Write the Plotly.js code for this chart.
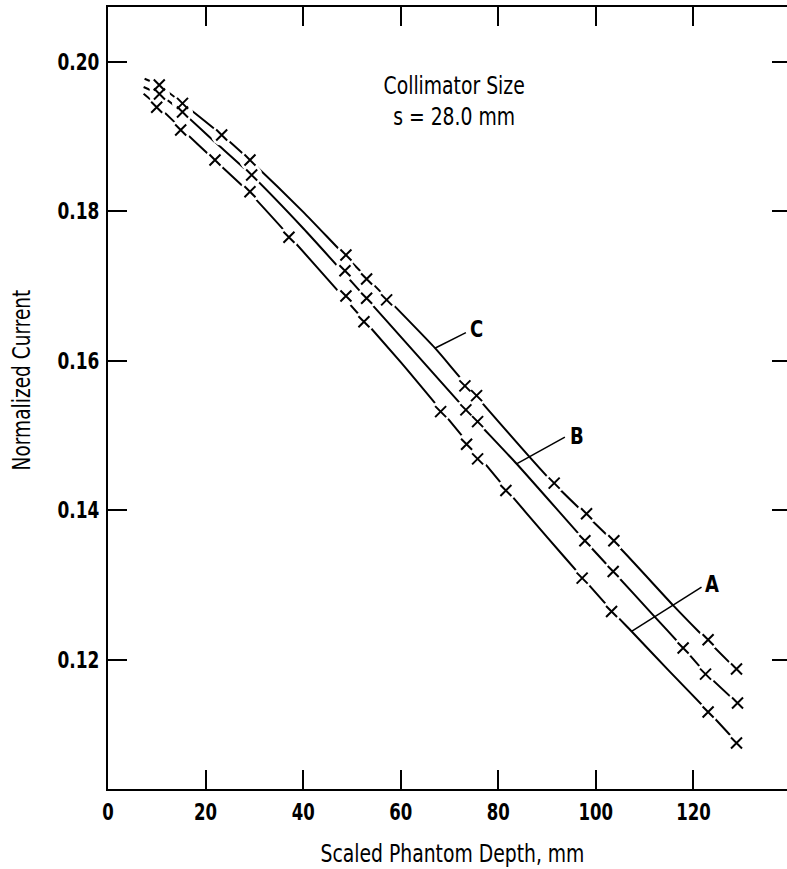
<!DOCTYPE html>
<html>
<head>
<meta charset="utf-8">
<script src="https://cdn.plot.ly/plotly-3.0.1.min.js"></script>
<style>
html,body{margin:0;padding:0;background:#fff;overflow:hidden;}
#chart{width:800px;height:869px;}
</style>
</head>
<body>
<div id="chart"></div>
<script>
// Measured points (Scaled phantom depth, mm -> normalized current)
const depthA = [9.98, 14.9, 21.93, 29.1, 37.09, 48.77, 52.46, 68.18, 73.5, 75.76, 81.56, 97.19, 103.22, 123.01, 128.83];
const currentA = [0.19388, 0.19084, 0.18683, 0.18259, 0.1765, 0.16865, 0.16521, 0.15318, 0.14882, 0.14686, 0.14262, 0.13091, 0.12644, 0.11299, 0.10885];
const depthB = [10.55, 15.27, 29.45, 48.57, 53.01, 73.36, 75.76, 97.75, 103.55, 117.89, 122.48, 129.04];
const currentB = [0.19566, 0.19325, 0.18483, 0.17203, 0.16834, 0.15341, 0.15184, 0.1359, 0.13179, 0.12155, 0.11807, 0.1142];
const depthC = [10.51, 15.27, 23.3, 29.1, 48.77, 53.01, 57.11, 73.16, 75.55, 91.46, 98.09, 103.69, 123.01, 128.83];
const currentC = [0.19686, 0.19441, 0.19017, 0.18683, 0.17413, 0.17092, 0.16812, 0.15662, 0.15532, 0.14361, 0.13951, 0.1359, 0.12266, 0.11874];

// Drawn curves
const curveAx = [7.3, 10, 14.9, 21.9, 29.1, 37.1, 48, 60, 68.2, 81.6, 90, 97.2, 103.2, 107.3, 115, 123, 128.8];
const curveAy = [0.1957, 0.1942, 0.1911, 0.1868, 0.1824, 0.1767, 0.1687, 0.1598, 0.1534, 0.1428, 0.1364, 0.1310, 0.1266, 0.1238, 0.1185, 0.1131, 0.1090];
const curveBx = [7.3, 10.5, 15.3, 22, 29.45, 40, 50, 63, 73.4, 83.75, 97.75, 103.55, 111.7, 117.9, 122.5, 129];
const curveBy = [0.1966, 0.1956, 0.1932, 0.1892, 0.1848, 0.1777, 0.1705, 0.1610, 0.1534, 0.1462, 0.1359, 0.1318, 0.1260, 0.1216, 0.1182, 0.1142];
const curveCx = [7.5, 10.5, 15.3, 23.3, 29.1, 40, 47.5, 67, 72.1, 90.6, 98.1, 105.3, 115.8, 121, 128.8];
const curveCy = [0.1977, 0.1968, 0.1944, 0.1902, 0.1868, 0.1799, 0.1748, 0.1617, 0.1578, 0.1441, 0.1393, 0.1347, 0.1273, 0.1238, 0.1187];

const xTicks = [0, 20, 40, 60, 80, 100, 120];
const yTicks = [0.12, 0.14, 0.16, 0.18, 0.20];
const curveLabels = ['A', 'B', 'C'];

const FONT = '"DejaVu Sans Condensed", "Liberation Sans Narrow", sans-serif';

function curveTrace(x, y) {
  return {x: x, y: y, type: 'scatter', mode: 'lines',
    line: {color: '#000', width: 2, shape: 'spline', smoothing: 0.6},
    hoverinfo: 'skip', showlegend: false};
}
const allX = depthA.concat(depthB, depthC);
const allY = currentA.concat(currentB, currentC);

const traces = [
  curveTrace(curveAx, curveAy),
  curveTrace(curveBx, curveBy),
  curveTrace(curveCx, curveCy),
  // white gaps in the curves around measured points
  {x: allX, y: allY, type: 'scatter', mode: 'markers',
   marker: {symbol: 'circle', size: 21, color: '#fff', line: {width: 0}},
   hoverinfo: 'skip', showlegend: false},
  {x: allX, y: allY, type: 'scatter', mode: 'markers',
   marker: {symbol: 'x-thin', size: 11, color: '#000', line: {width: 2, color: '#000'}},
   showlegend: false}
];

const layout = {
  width: 800, height: 869,
  margin: {l: 108, r: 9, t: 7, b: 80},
  paper_bgcolor: '#fff', plot_bgcolor: '#fff',
  showlegend: false,
  xaxis: {
    range: [0, 140], tickvals: xTicks, ticktext: xTicks.map(String),
    ticks: 'inside', ticklen: 19, tickwidth: 2, tickcolor: '#000',
    showline: true, linewidth: 2, linecolor: '#000', mirror: 'ticks',
    showgrid: false, zeroline: false,
    tickfont: {family: FONT, size: 23, color: '#000', weight: 'bold'},
    ticklabelstandoff: 1,
    title: {text: 'Scaled Phantom Depth, mm', font: {family: FONT, size: 24, color: '#000'}, standoff: 29}
  },
  yaxis: {
    range: [0.1027, 0.2073], tickvals: yTicks, ticktext: yTicks.map(v => v.toFixed(2)),
    ticks: 'inside', ticklen: 19, tickwidth: 2, tickcolor: '#000',
    showline: true, linewidth: 2, linecolor: '#000', mirror: 'ticks',
    showgrid: false, zeroline: false,
    tickfont: {family: FONT, size: 23, color: '#000', weight: 'bold'},
    ticklabelstandoff: 2,
    title: {text: 'Normalized Current', font: {family: FONT, size: 24, color: '#000'}, standoff: 20}
  },
  shapes: [
    {type: 'line', xref: 'x', yref: 'y', x0: 107.32, y0: 0.12377, x1: 121.66, y1: 0.12971, line: {color: '#000', width: 1.5}},
    {type: 'line', xref: 'x', yref: 'y', x0: 83.75, y0: 0.14619, x1: 93.65, y1: 0.14976, line: {color: '#000', width: 1.5}},
    {type: 'line', xref: 'x', yref: 'y', x0: 67.0, y0: 0.16166, x1: 73.36, y1: 0.16374, line: {color: '#000', width: 1.5}}
  ],
  annotations: [
    {x: 123.77, y: 0.13011, xref: 'x', yref: 'y', text: curveLabels[0], showarrow: false,
     font: {family: FONT, size: 23, color: '#000', weight: 'bold'}},
    {x: 96.04, y: 0.14989, xref: 'x', yref: 'y', text: curveLabels[1], showarrow: false,
     font: {family: FONT, size: 23, color: '#000', weight: 'bold'}},
    {x: 75.45, y: 0.16428, xref: 'x', yref: 'y', text: curveLabels[2], showarrow: false,
     font: {family: FONT, size: 23, color: '#000', weight: 'bold'}},
    {x: 71.0, y: 0.1947, xref: 'x', yref: 'y', text: 'Collimator Size<br>s = 28.0 mm', showarrow: false,
     align: 'center', font: {family: FONT, size: 24, color: '#000'}}
  ]
};

// narrow the text horizontally about its anchor point (the original lettering is a condensed face)
function squeeze(root, selector, s) {
  root.querySelectorAll(selector).forEach(function (t) {
    const x = parseFloat(t.getAttribute('x')) || 0;
    const y = parseFloat(t.getAttribute('y')) || 0;
    const tr = t.getAttribute('transform') || '';
    t.setAttribute('transform', tr + ' translate(' + x + ',' + y + ') scale(' + s + ',1) translate(' + (-x) + ',' + (-y) + ')');
  });
}
// nudge text in screen pixels
function nudge(root, selector, dx, dy) {
  root.querySelectorAll(selector).forEach(function (t) {
    const tr = t.getAttribute('transform') || '';
    t.setAttribute('transform', 'translate(' + dx + ',' + dy + ') ' + tr);
  });
}

Plotly.newPlot('chart', traces, layout, {displayModeBar: false, staticPlot: true}).then(function (gd) {
  try {
    squeeze(gd, '.xtick text', 0.8);
    squeeze(gd, '.ytick text', 0.82);
    squeeze(gd, '.g-xtitle text', 0.87);
    squeeze(gd, '.g-ytitle text', 0.86);
    squeeze(gd, '.annotation-text', 0.87);
    nudge(gd, '.g-ytitle text', 8, -18);
    nudge(gd, '.g-xtitle text', 3, -1);
  } catch (e) { /* leave text as drawn */ }
});
</script>
</body>
</html>
